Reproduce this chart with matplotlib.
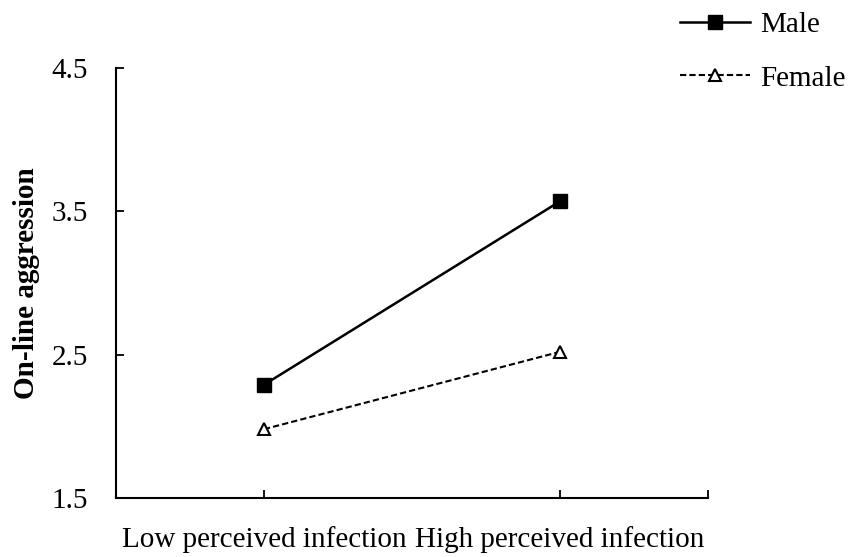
import matplotlib
matplotlib.use("Agg")
import matplotlib.pyplot as plt

categories = ["Low perceived infection", "High perceived infection"]
male = [2.29, 3.57]
female = [1.98, 2.52]
yticks = [1.5, 2.5, 3.5, 4.5]

plt.rcParams['font.family'] = ['Liberation Serif', 'DejaVu Serif']

fig = plt.figure(figsize=(8.53, 5.57), dpi=100)
ax = fig.add_axes([116/853, 59/557, (708-116)/853, (498-68)/557])

x = list(range(len(categories)))
ax.plot(x, male, color='black', lw=1.8, marker='s', markersize=10.5, label='Male')
ax.plot(x, female, color='black', lw=1.5, ls=(0, (3, 1.5)), marker='^', markersize=9,
        markerfacecolor='white', markeredgecolor='black', markeredgewidth=1.5, label='Female')

ax.set_xlim(-0.5, 1.5)
ax.set_ylim(1.5, 4.5)
ax.set_yticks(yticks)
ax.set_yticklabels([f"{v:.1f}" for v in yticks], fontsize=21)
ax.set_xticks(x)
ax.set_xticklabels(categories, fontsize=21)
ax.set_xticks([1.5], minor=True)
ax.tick_params(axis='both', which='both', direction='in', length=6, width=1.3, colors='black')
ax.tick_params(axis='x', pad=20)
ax.tick_params(axis='y', pad=20)
for s in ['top', 'right']:
    ax.spines[s].set_visible(False)
for s in ['left', 'bottom']:
    ax.spines[s].set_linewidth(1.5)
ax.set_ylabel("On-line aggression", fontsize=21, fontweight='bold')
ax.yaxis.set_label_coords((40 - 116) / 592, 0.5)

leg = ax.legend(loc='upper left', bbox_to_anchor=(680/853, 1 - 12/557), bbox_transform=fig.transFigure,
                frameon=False, fontsize=21, handlelength=2.4, handletextpad=0.35, labelspacing=0.92,
                borderaxespad=0, borderpad=0)

fig.savefig("out.png", dpi=100)
